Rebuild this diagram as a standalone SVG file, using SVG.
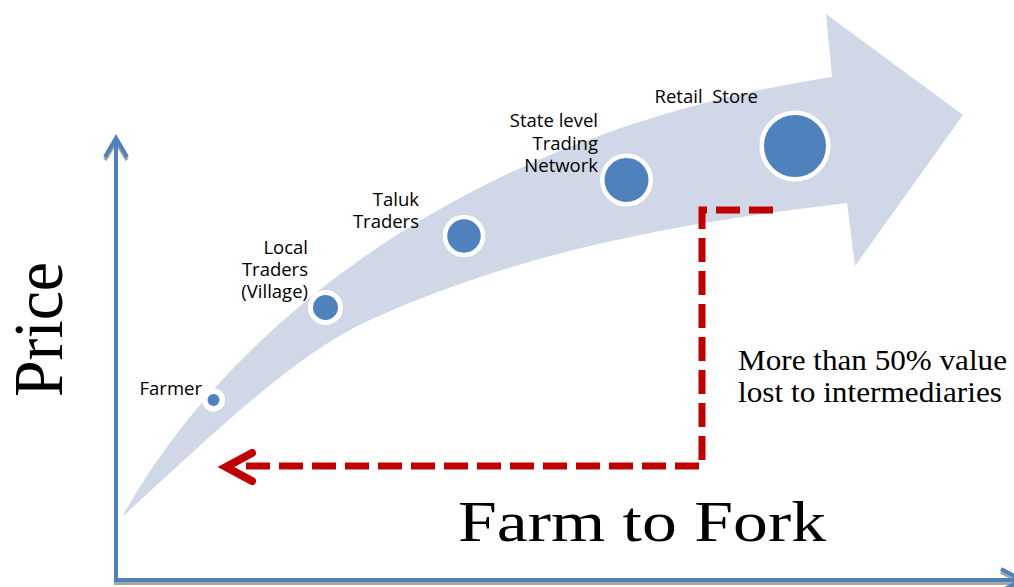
<svg xmlns="http://www.w3.org/2000/svg" width="1014" height="587" viewBox="0 0 1014 587">
<defs>
<style>
.lbl{font-family:"Open Sans","Liberation Sans",sans-serif;font-size:18.5px;fill:#000;text-anchor:end}
.serif{font-family:"Liberation Serif","Times New Roman",serif;fill:#000}
.dot{fill:#4F81BD;stroke:#fff}
.axis{fill:none;stroke:#4F81BD;stroke-width:4;stroke-linejoin:miter}
.axshadow{fill:none;stroke:#A6A6A6;stroke-width:4;stroke-linejoin:miter}
.red{fill:none;stroke:#C00000}
</style>
<path id="axpath" d="M116,582 V140 M105,157 L116,138 L127,157 M114,580 H1020 M1001,569 L1022,580 L1001,591"/>
</defs>
<rect width="1014" height="587" fill="#fff"/>
<g id="curved-arrow">
<path d="M122,517 C220,340 450,135 832,77 L826,14 L963,115 L855,266 L847,203 C687,222 530,248 370,320 C290,356 202,445 122,517 Z" fill="#D0D8E8"/>
</g>
<g id="axes">
<use href="#axpath" class="axshadow" transform="translate(0,3)"/>
<use href="#axpath" class="axis"/>
<text class="serif" font-size="70" transform="translate(62,397) rotate(-90)" textLength="135" lengthAdjust="spacingAndGlyphs">Price</text>
<text class="serif" font-size="58" x="458" y="541" textLength="368" lengthAdjust="spacingAndGlyphs">Farm to Fork</text>
</g>
<g id="connectors">
<path class="red" stroke-width="7" stroke-dasharray="24 9" d="M773,210 H702 V466 H238"/>
<path class="red" stroke-width="8" stroke-linecap="round" stroke-linejoin="miter" d="M252,453 L226,467 L252,481"/>
</g>
<g id="note">
<text class="serif" font-size="29" x="738" y="370" textLength="269" lengthAdjust="spacingAndGlyphs">More than 50% value</text>
<text class="serif" font-size="29" x="738" y="402" textLength="264" lengthAdjust="spacingAndGlyphs">lost to intermediaries</text>
</g>
<g id="farmer">
<circle class="dot" cx="213.5" cy="400" r="8.75" stroke-width="5.5"/>
<text class="lbl" x="202" y="395">Farmer</text>
</g>
<g id="local-traders">
<circle class="dot" cx="325.5" cy="307.5" r="15" stroke-width="5"/>
<text class="lbl" x="308" y="254">Local</text>
<text class="lbl" x="308" y="276">Traders</text>
<text class="lbl" x="308" y="298">(Village)</text>
</g>
<g id="taluk-traders">
<circle class="dot" cx="464" cy="236" r="19" stroke-width="4.5"/>
<text class="lbl" x="419" y="206">Taluk</text>
<text class="lbl" x="419" y="228">Traders</text>
</g>
<g id="state-network">
<circle class="dot" cx="626.5" cy="180" r="24.25" stroke-width="4.5"/>
<text class="lbl" x="598" y="127">State level</text>
<text class="lbl" x="598" y="150">Trading</text>
<text class="lbl" x="598" y="172">Network</text>
</g>
<g id="retail-store">
<circle class="dot" cx="795" cy="146" r="33.25" stroke-width="4.5"/>
<text class="lbl" x="758" y="103" xml:space="preserve">Retail  Store</text>
</g>
</svg>
